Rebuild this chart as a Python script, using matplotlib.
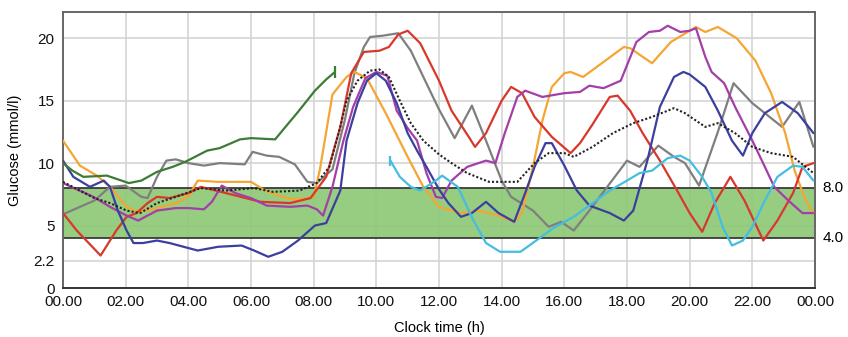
import matplotlib
matplotlib.use("Agg")
import matplotlib.pyplot as plt

# hours of the day and glucose (mmol/l), one pair of lists per trace
green_t = [0, 0.3, 0.65, 1.4, 2.1, 2.5, 3.0, 3.5, 3.9, 4.6, 5.0, 5.65, 6.0, 6.77, 7.1, 7.5, 8.04, 8.4, 8.68]
green_v = [10.0, 9.4, 8.9, 9.0, 8.4, 8.6, 9.3, 9.7, 10.1, 11.0, 11.2, 11.9, 12.0, 11.9, 12.9, 14.1, 15.8, 16.7, 17.3]

gray_t = [0, 1.0, 1.5, 2.0, 2.5, 2.7, 3.0, 3.3, 3.6, 4.0, 4.5, 5.0, 5.8, 6.05, 6.5, 6.9, 7.4, 7.8, 8.1,
          8.6, 9.0, 9.3, 9.6, 9.8, 10.2, 10.7, 11.1, 11.5, 12.0, 12.5, 13.05, 13.5, 14.0, 14.3, 15.0,
          15.5, 15.9, 16.3, 16.8, 17.4, 18.0, 18.4, 19.0, 19.5, 19.85, 20.3, 20.9, 21.4, 22.0, 22.5,
          22.95, 23.5, 23.95]
gray_v = [5.9, 7.0, 8.1, 8.2, 7.3, 7.2, 8.9, 10.2, 10.3, 10.0, 9.8, 10.0, 9.9, 10.9, 10.6, 10.5, 9.9, 8.5, 8.4,
          9.5, 13.5, 17.2, 19.3, 20.1, 20.2, 20.4, 19.0, 16.9, 14.3, 12.0, 14.6, 11.8, 8.6, 7.3, 6.2,
          4.9, 5.3, 4.6, 6.2, 8.2, 10.2, 9.7, 11.4, 10.5, 10.0, 8.2, 12.5, 16.4, 14.8, 13.8,
          12.9, 14.9, 11.3]

orange_t = [0, 0.54, 1.08, 1.5, 2.03, 2.4, 3.0, 3.6, 4.0, 4.3, 4.95, 6.0, 6.45, 6.9, 7.3, 7.8, 8.0, 8.2,
            8.4, 8.6, 9.05, 9.3, 9.7, 10.3, 11.0, 11.5, 12.0, 12.7, 13.25, 14.0, 14.4, 14.65, 15.0, 15.3,
            15.6, 16.0, 16.2, 16.6, 17.25, 17.9, 18.1, 18.8, 19.4, 20.0, 20.2, 20.5, 20.9, 21.5, 22.1,
            22.6, 23.05, 23.35, 23.7, 23.95]
orange_v = [11.8, 9.8, 9.0, 8.1, 6.5, 6.1, 6.4, 6.8, 7.3, 8.6, 8.5, 8.5, 7.8, 7.4, 7.1, 7.2, 7.3, 9.5,
            12.5, 15.5, 16.9, 17.3, 16.8, 14.0, 10.5, 8.1, 6.5, 6.0, 6.2, 5.7, 5.3, 6.0, 9.7, 13.4,
            16.1, 17.2, 17.3, 16.9, 18.1, 19.3, 19.2, 18.0, 19.7, 20.6, 20.9, 20.5, 20.9, 20.0, 18.2,
            15.6, 12.4, 9.4, 7.0, 6.0]

red_t = [0, 0.44, 1.2, 1.7, 2.03, 2.35, 2.7, 3.0, 3.4, 4.0, 4.4, 5.2, 6.3, 7.25, 7.9, 8.4, 8.85, 9.2, 9.6,
         10.1, 10.4, 10.7, 11.0, 11.4, 12.0, 12.4, 12.95, 13.15, 13.5, 14.0, 14.3, 14.65, 15.05, 15.6,
         16.2, 16.5, 16.9, 17.45, 17.7, 18.1, 18.5, 19.05, 19.6, 20.0, 20.4, 20.8, 21.3, 21.75, 22.35,
         22.8, 23.3, 23.6, 23.95]
red_v = [6.0, 4.6, 2.6, 4.6, 5.7, 6.0, 6.8, 7.3, 7.2, 7.6, 8.1, 7.6, 6.9, 6.8, 7.2, 8.9, 12.9, 17.2, 18.9,
         19.0, 19.3, 20.3, 20.6, 19.6, 16.6, 14.2, 12.1, 11.3, 12.4, 15.0, 16.1, 15.6, 13.7, 12.1,
         10.8, 11.6, 13.1, 15.3, 15.4, 14.2, 12.4, 10.2, 7.8, 6.0, 4.5, 6.8, 8.9, 7.0, 3.8,
         5.4, 7.6, 9.7, 10.0]

purple_t = [0, 0.97, 1.5, 2.03, 2.4, 3.0, 3.6, 4.0, 4.5, 4.75, 5.07, 5.5, 6.0, 6.5, 7.25, 7.8, 8.1, 8.3,
            8.6, 8.95, 9.26, 9.65, 10.0, 10.35, 10.65, 11.0, 11.3, 11.6, 11.9, 12.1, 12.4, 12.9, 13.5,
            13.8, 14.1, 14.5, 14.75, 15.3, 16.0, 16.5, 16.8, 17.25, 17.8, 18.3, 18.7, 19.05, 19.3, 19.7,
            20.0, 20.2, 20.5, 20.7, 21.1, 21.45, 22.0, 22.4, 22.7, 23.15, 23.6, 23.95]
purple_v = [8.4, 7.3, 6.5, 5.8, 5.4, 6.2, 6.4, 6.4, 6.3, 6.9, 8.2, 7.6, 7.2, 6.6, 6.5, 6.6, 6.3, 5.8,
            8.1, 11.8, 14.5, 16.8, 17.3, 17.0, 14.2, 12.8, 11.8, 9.2, 7.3, 7.2, 8.6, 9.7, 10.2,
            10.0, 12.4, 15.3, 15.8, 15.3, 15.6, 15.7, 16.2, 16.0, 16.6, 19.7, 20.5, 20.6, 21.0, 20.5,
            20.6, 20.8, 18.5, 17.3, 16.4, 14.5, 11.8, 9.7, 8.1, 7.0, 6.0, 6.0]

blue_t = [0, 0.33, 0.86, 1.3, 1.5, 1.75, 2.03, 2.25, 2.55, 3.0, 3.4, 4.0, 4.3, 4.95, 5.7, 6.1, 6.55, 7.0,
          7.5, 8.04, 8.4, 8.85, 9.05, 9.4, 9.7, 10.0, 10.3, 10.65, 11.0, 11.3, 11.6, 12.0, 12.3, 12.7,
          13.05, 13.5, 13.9, 14.4, 14.75, 15.05, 15.4, 15.6, 16.0, 16.4, 16.8, 17.45, 17.9, 18.2, 18.65,
          19.05, 19.5, 19.8, 20.0, 20.5, 20.9, 21.35, 21.7, 22.0, 22.4, 22.95, 23.45, 23.95]
blue_v = [10.2, 8.9, 8.1, 8.6, 8.1, 6.2, 4.6, 3.6, 3.6, 3.8, 3.6, 3.2, 3.0, 3.3, 3.4, 3.0, 2.5, 2.9,
          3.8, 5.0, 5.2, 7.8, 11.8, 14.8, 16.6, 17.2, 16.6, 14.8, 12.4, 11.0, 9.7, 7.9, 6.8, 5.7,
          6.0, 6.9, 6.0, 5.3, 7.6, 9.7, 11.6, 11.6, 9.8, 7.8, 6.6, 6.0, 5.4, 6.2, 10.2,
          14.5, 16.9, 17.3, 17.1, 16.1, 14.2, 11.8, 10.6, 12.4, 14.0, 14.9, 14.0, 12.4]

cyan_t = [10.45, 10.75, 11.1, 11.4, 11.9, 12.1, 12.6, 13.1, 13.5, 13.95, 14.6, 15.1, 15.65, 16.3, 16.9,
          17.45, 18.0, 18.4, 18.8, 19.3, 19.7, 20.0, 20.4, 20.7, 21.05, 21.35, 21.7, 22.0, 22.4, 22.8,
          23.3, 23.6, 23.95]
cyan_v = [10.2, 8.9, 8.1, 7.8, 8.6, 9.0, 8.1, 5.4, 3.6, 2.9, 2.9, 3.8, 4.8, 5.7, 6.8,
          7.8, 8.6, 9.2, 9.4, 10.4, 10.6, 10.2, 8.9, 7.6, 4.9, 3.4, 3.8, 4.9, 7.0, 8.9,
          9.8, 9.7, 8.6]

mean_t = [0, 1.0, 1.5, 2.03, 2.46, 3.0, 3.6, 4.4, 5.2, 6.1, 6.7, 7.55, 8.1, 8.5, 8.85, 9.05, 9.4, 9.8,
          10.1, 10.4, 10.75, 11.1, 11.5, 12.0, 12.4, 12.9, 13.6, 14.0, 14.5, 15.05, 15.5, 16.0, 16.3,
          16.9, 17.55, 18.2, 18.8, 19.5, 19.85, 20.5, 20.9, 21.45, 22.0, 22.6, 23.3, 23.7, 23.95]
mean_v = [8.5, 7.2, 6.8, 6.2, 6.0, 6.8, 7.3, 8.0, 7.8, 8.0, 7.7, 7.8, 8.4, 9.7, 12.9, 15.0, 16.6, 17.4,
          17.5, 16.9, 15.0, 13.2, 11.8, 10.7, 10.0, 9.2, 8.5, 8.5, 8.5, 10.0, 10.8, 10.8, 10.5,
          11.3, 12.4, 13.2, 13.7, 14.4, 14.0, 12.9, 13.2, 12.4, 11.3, 10.8, 10.5, 9.7, 9.2]

target_low, target_high = 4.0, 8.0
y_ticks = [0, 2.2, 5, 10, 15, 20]
x_ticks = list(range(0, 25, 2))
x_labels = ["00.00", "02.00", "04.00", "06.00", "08.00", "10.00", "12.00",
            "14.00", "16.00", "18.00", "20.00", "22.00", "00.00"]

plt.rcParams['font.family'] = ['Liberation Sans', 'DejaVu Sans']

fig = plt.figure(figsize=(8.48, 3.37), dpi=100)
ax = fig.add_axes([63 / 848, 49 / 337, 752 / 848, 276 / 337])

# target range band
ax.axhspan(target_low, target_high, color='#8ec976', alpha=0.92, zorder=1, lw=0)
ax.axhline(target_low, color='#3a3a3a', lw=1.3, zorder=2)
ax.axhline(target_high, color='#3a3a3a', lw=1.3, zorder=2)

style = dict(lw=1.6, zorder=3, solid_joinstyle='round', solid_capstyle='round')
ax.plot(gray_t, gray_v, color='#7f7f7f', **style)
ax.plot(orange_t, orange_v, color='#f4a534', **style)
ax.plot(red_t, red_v, color='#d8382c', **style)
ax.plot(purple_t, purple_v, color='#a43ea8', **style)
ax.plot(blue_t, blue_v, color='#3b3f9e', **style)
ax.plot(cyan_t, cyan_v, color='#45bde2', **style)
ax.plot(green_t, green_v, color='#3b7d34', **style)
ax.plot(mean_t, mean_v, color='#222222', lw=1.5, ls=(0, (1, 1)), zorder=4)

# short end ticks on the partial traces
ax.plot(green_t[-1], green_v[-1], marker='|', ms=8, mew=1.6, color='#3b7d34', zorder=3)
ax.plot(cyan_t[0], cyan_v[0], marker='|', ms=7, mew=1.6, color='#45bde2', zorder=3)

ax.set_xlim(0, 24)
ax.set_ylim(0, 22.1)
ax.set_xticks(x_ticks)
ax.set_xticklabels(x_labels)
ax.set_yticks(y_ticks)
ax.set_yticklabels(["0", "2.2", "5", "10", "15", "20"])
ax.tick_params(length=0, labelsize=11, colors='#111111')
ax.tick_params(axis='y', pad=6)
ax.tick_params(axis='x', pad=5)
ax.grid(True, color='#d4d4d4', lw=1.2, zorder=0)
ax.set_axisbelow(True)
for s in ax.spines.values():
    s.set_color('#666666')
    s.set_linewidth(1.4)
ax.spines['bottom'].set_color('#333333')

ax.text(24.25, target_high, "8.0", va='center', ha='left', fontsize=11, clip_on=False)
ax.text(24.25, target_low, "4.0", va='center', ha='left', fontsize=11, clip_on=False)

ax.set_xlabel("Clock time (h)", fontsize=10.5, labelpad=9)
ax.set_ylabel("Glucose (mmol/l)", fontsize=10.5, labelpad=8)

fig.savefig("out.png", dpi=100)
